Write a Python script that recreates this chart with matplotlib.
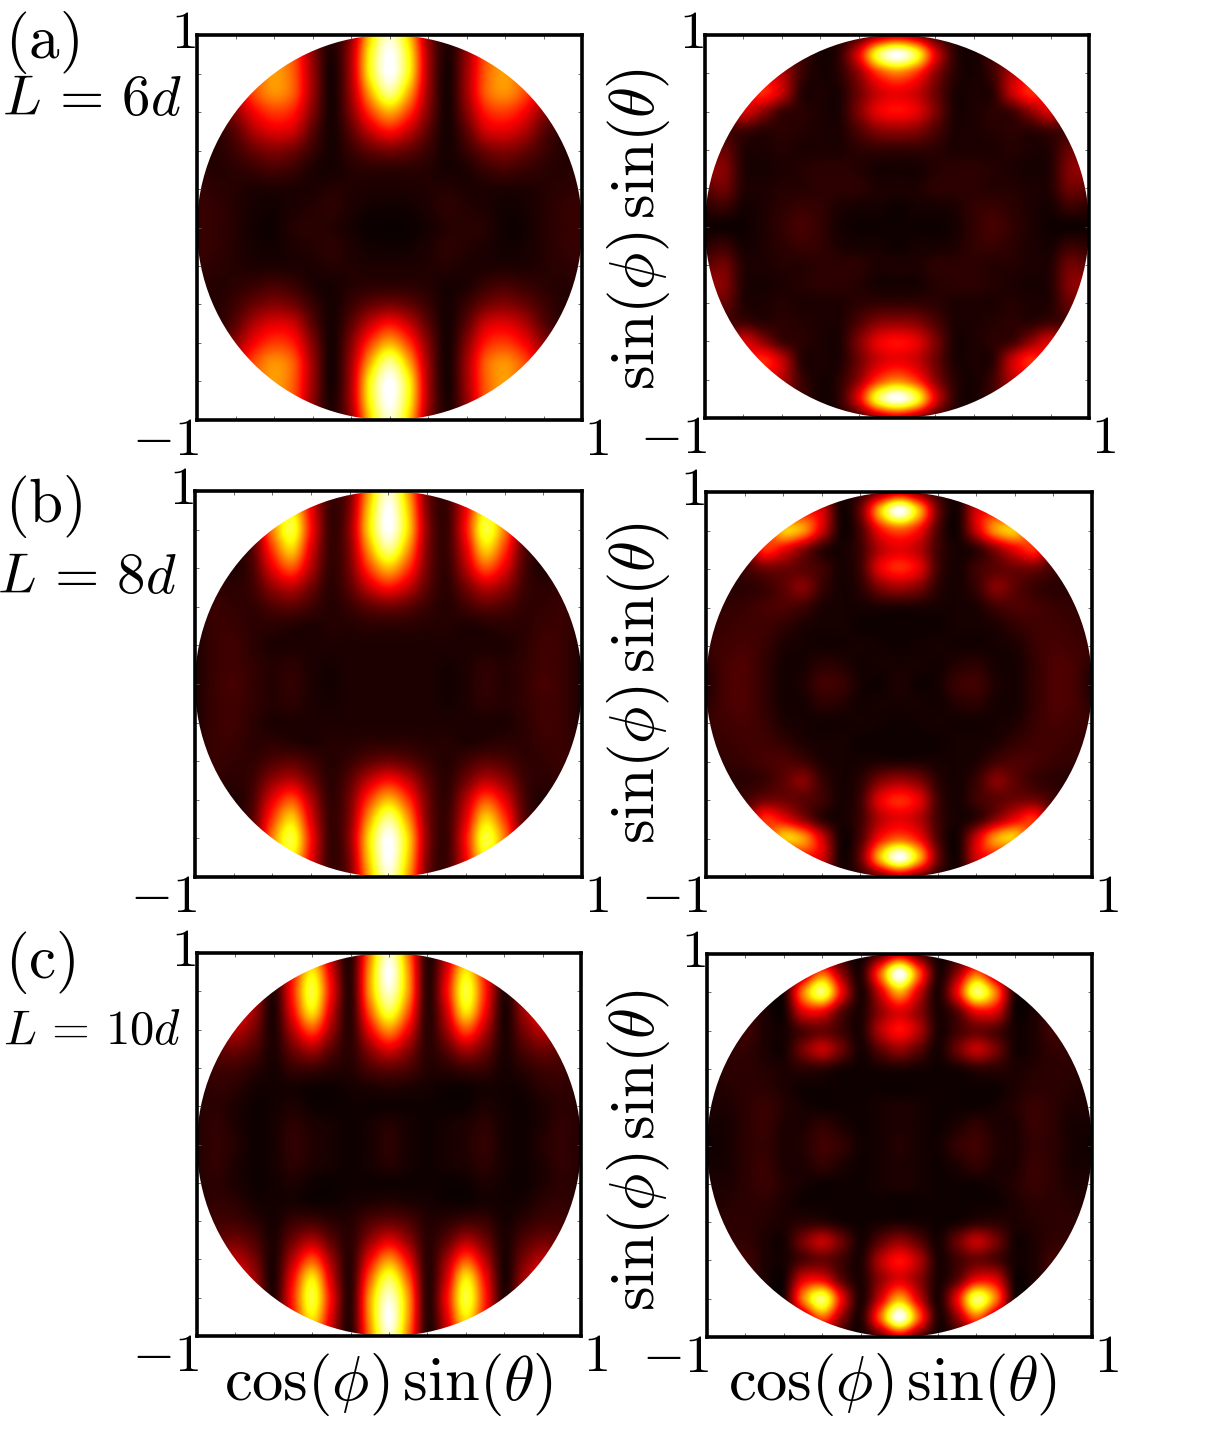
import numpy as np
import matplotlib
matplotlib.use('Agg')
import matplotlib.pyplot as plt
from matplotlib.patches import Circle

plt.rcParams['mathtext.fontset'] = 'cm'
plt.rcParams['font.family'] = 'DejaVu Serif'

W, H = 1217, 1443

# Quadrant intensity tables: rows sin(phi)sin(theta)=1.0..0.0, columns cos(phi)sin(theta)=0.0..1.0
a_left = [
 [.95,.68,.20,.04,.15,.40,.58,.60,.60,.60,.60],
 [1.0,.75,.24,.03,.20,.48,.58,.58,.60,.60,.60],
 [1.0,.75,.24,.02,.22,.50,.60,.50,.40,.30,.30],
 [.88,.62,.22,.02,.22,.50,.58,.48,.30,.20,.20],
 [.62,.45,.18,.02,.18,.40,.45,.36,.20,.10,.10],
 [.38,.28,.12,.02,.12,.29,.32,.25,.12,.05,.05],
 [.16,.13,.07,.02,.07,.15,.18,.14,.08,.04,.04],
 [.05,.05,.04,.02,.03,.07,.09,.07,.05,.04,.05],
 [.03,.03,.035,.04,.03,.03,.03,.03,.04,.05,.06],
 [.012,.015,.03,.05,.04,.03,.015,.02,.04,.06,.07],
 [.003,.005,.02,.04,.045,.04,.012,.015,.04,.06,.07],
]
a_right = [
 [.30,.22,.08,.03,.02,.05,.10,.10,.10,.10,.10],
 [1.0,.80,.33,.06,.02,.08,.12,.12,.12,.12,.12],
 [.55,.44,.20,.05,.02,.08,.25,.30,.25,.20,.20],
 [.34,.29,.15,.03,.03,.05,.28,.42,.30,.10,.10],
 [.38,.33,.17,.03,.03,.05,.08,.20,.30,.12,.05],
 [.20,.18,.10,.03,.03,.04,.05,.05,.08,.08,.05],
 [.06,.06,.05,.03,.03,.03,.04,.03,.04,.14,.12],
 [.02,.02,.04,.05,.05,.04,.03,.02,.04,.18,.20],
 [.03,.03,.05,.05,.05,.04,.04,.03,.04,.15,.12],
 [.01,.02,.02,.03,.06,.07,.05,.03,.02,.07,.05],
 [.01,.01,.01,.02,.06,.09,.06,.03,.01,.01,.01],
]
b_left = [
 [.95,.62,.16,.08,.30,.52,.30,.06,.03,.03,.03],
 [1.0,.68,.18,.07,.35,.72,.50,.10,.03,.03,.03],
 [1.0,.70,.20,.07,.38,.80,.55,.12,.03,.03,.03],
 [.88,.60,.18,.07,.32,.68,.45,.12,.03,.05,.05],
 [.64,.45,.16,.06,.25,.48,.33,.10,.03,.06,.05],
 [.38,.28,.12,.05,.15,.26,.20,.08,.05,.06,.05],
 [.15,.12,.07,.04,.08,.12,.10,.06,.06,.07,.05],
 [.05,.05,.04,.04,.03,.04,.05,.05,.07,.07,.04],
 [.03,.03,.03,.03,.03,.03,.03,.05,.08,.07,.03],
 [.03,.03,.03,.02,.03,.05,.04,.06,.08,.07,.03],
 [.03,.03,.03,.015,.03,.06,.04,.06,.09,.07,.03],
]
b_right = [
 [.25,.15,.05,.03,.10,.10,.05,.02,.02,.02,.02],
 [1.0,.65,.15,.02,.30,.35,.15,.02,.02,.02,.02],
 [.50,.38,.10,.02,.30,.60,.65,.30,.02,.02,.02],
 [.33,.26,.08,.02,.06,.20,.35,.42,.12,.03,.02],
 [.42,.33,.08,.02,.08,.12,.15,.15,.08,.03,.03],
 [.22,.17,.05,.02,.07,.18,.12,.07,.05,.04,.04],
 [.03,.03,.02,.02,.03,.08,.10,.09,.07,.06,.05],
 [.01,.01,.01,.02,.02,.03,.06,.08,.08,.07,.06],
 [.01,.015,.02,.015,.015,.02,.03,.07,.09,.08,.07],
 [.02,.02,.015,.04,.05,.02,.02,.06,.10,.09,.05],
 [.03,.01,.02,.07,.08,.03,.02,.06,.10,.09,.03],
]
c_left = [
 [.95,.55,.04,.25,.55,.30,.05,.25,.40,.40,.40],
 [1.0,.60,.05,.32,.72,.38,.04,.25,.38,.38,.38],
 [.95,.60,.05,.36,.80,.42,.04,.25,.38,.38,.38],
 [.82,.50,.05,.30,.72,.37,.03,.22,.36,.30,.30],
 [.58,.35,.05,.22,.48,.26,.03,.16,.26,.20,.10],
 [.32,.20,.05,.12,.24,.15,.03,.10,.15,.12,.05],
 [.13,.10,.04,.05,.08,.07,.02,.05,.08,.08,.05],
 [.04,.03,.02,.01,.01,.02,.015,.02,.05,.06,.04],
 [.01,.01,.01,.005,.01,.03,.015,.01,.03,.05,.04],
 [.04,.02,.01,.02,.03,.05,.02,.01,.03,.06,.04],
 [.05,.02,.01,.02,.035,.06,.02,.01,.04,.06,.04],
]
c_right = [
 [.30,.12,.01,.05,.05,.03,.01,.01,.02,.02,.02],
 [1.0,.50,.04,.20,.50,.20,.02,.01,.03,.03,.03],
 [.62,.30,.03,.35,.85,.55,.03,.02,.05,.03,.03],
 [.32,.20,.03,.12,.35,.32,.02,.03,.07,.03,.03],
 [.38,.25,.03,.08,.14,.10,.02,.03,.08,.04,.03],
 [.20,.12,.02,.14,.27,.16,.02,.03,.06,.05,.03],
 [.03,.02,.01,.02,.05,.05,.03,.04,.05,.05,.03],
 [.005,.01,.01,.01,.01,.01,.03,.05,.05,.04,.03],
 [.03,.02,.01,.01,.01,.02,.04,.07,.05,.03,.03],
 [.03,.02,.01,.03,.06,.03,.03,.07,.05,.02,.02],
 [.04,.02,.015,.06,.08,.04,.03,.06,.05,.02,.01],
]

tick_values = [-1.0, -0.8, -0.6, -0.4, -0.2, 0.0, 0.2, 0.4, 0.6, 0.8, 1.0]
panel_letters = ['(a)', '(b)', '(c)']

# axes boxes in pixels: left, right, top, bottom
boxes = [
 (197, 582, 35, 420), (705, 1089, 35, 418),
 (195, 582, 491, 877), (706, 1092, 492, 877),
 (197, 581, 953, 1336), (707, 1092, 954, 1337),
]
tables = [a_left, a_right, b_left, b_right, c_left, c_right]

fig = plt.figure(figsize=(W/100, H/100), dpi=100, facecolor='white')


def ptext(x, y, s, size, **kw):
    kw.setdefault('ha', 'center')
    kw.setdefault('va', 'center')
    return fig.text(x/W, 1-y/H, s, fontsize=size, color='black', **kw)


def full_grid(q):
    q = np.array(q, dtype=float)
    upper = np.hstack([q[:, :0:-1], q])      # mirror about x = 0
    return np.vstack([upper, upper[-2::-1]])  # mirror about y = 0


for tab, (l, r, t, b) in zip(tables, boxes):
    ax = fig.add_axes([l/W, 1-b/H, (r-l)/W, (b-t)/H])
    im = ax.imshow(full_grid(tab), cmap='hot', vmin=0, vmax=1,
                   extent=[-1.05, 1.05, -1.05, 1.05], origin='upper',
                   interpolation='catrom', aspect='auto')
    im.set_clip_path(Circle((0, 0), 1.0, transform=ax.transData))
    ax.set_xlim(-1, 1)
    ax.set_ylim(-1, 1)
    ax.set_xticks(tick_values)
    ax.set_yticks(tick_values)
    ax.tick_params(direction='in', length=3, width=0.6, color='#555555',
                   top=True, right=True, labelbottom=False, labelleft=False)
    for s in ax.spines.values():
        s.set_linewidth(2.6)
    ptext(l-14, t-2, r'$1$', 39)
    ptext(l-32, b+20, r'$-1$', 39)
    ptext(r+14, b+20, r'$1$', 39)

for letter, y1 in zip(panel_letters, [42, 506, 963]):
    ptext(5, y1, letter.replace('(', r'$\mathrm{(').replace(')', r')}$'), 44, ha='left')

ptext(92, 99, r'$L\,=\,6d$', 41)
ptext(87, 577, r'$L\,=\,8d$', 41)
ptext(92, 1030, r'$L\,=\,10d$', 35)

for x, y in [(638, 229), (638, 683), (638, 1150)]:
    ptext(x, y, r'$\sin(\phi)\,\sin(\theta)$', 45, rotation=90)
for x in [388, 892]:
    ptext(x, 1385, r'$\cos(\phi)\,\sin(\theta)$', 45)

fig.savefig('out.png', dpi=100, facecolor='white')
